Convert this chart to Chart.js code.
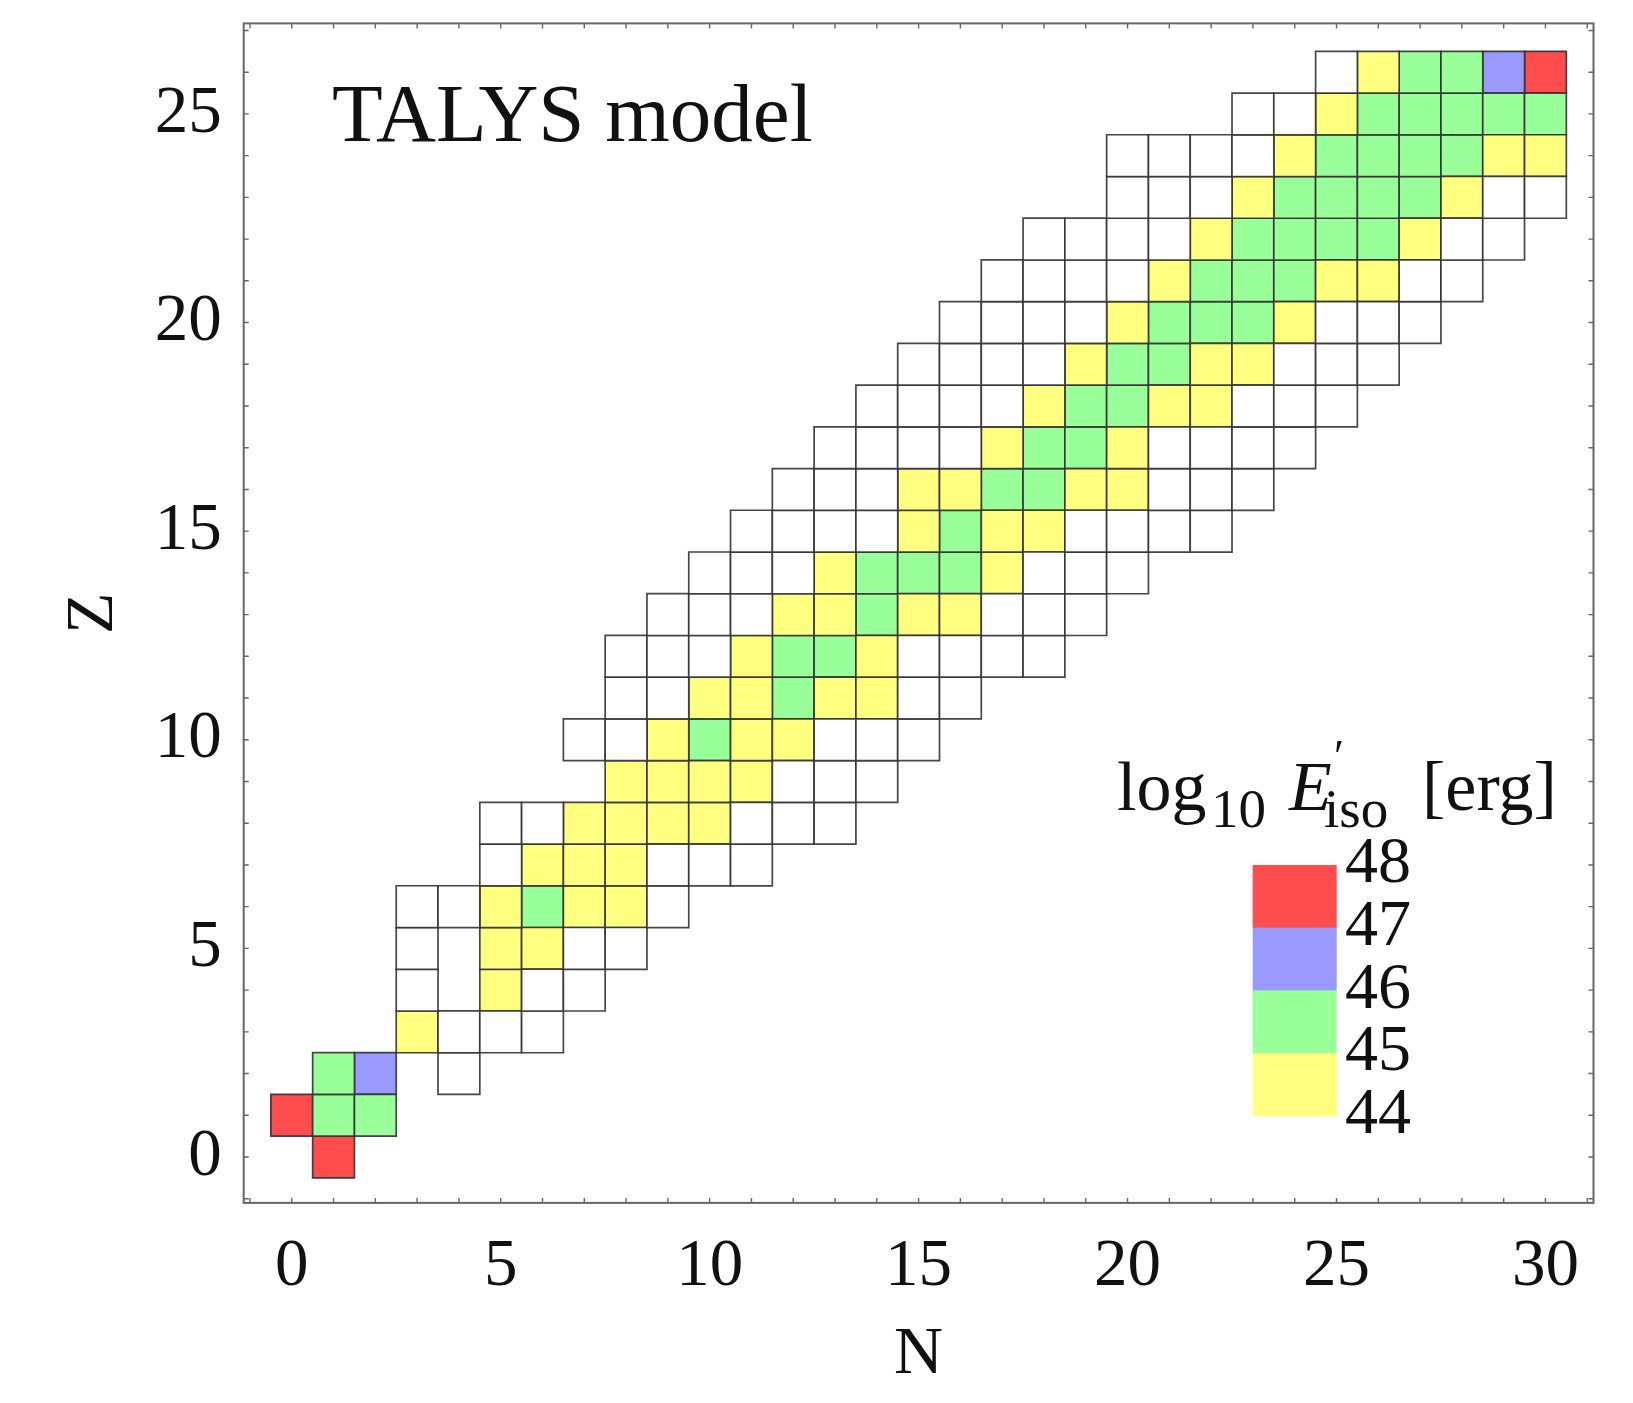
<!DOCTYPE html>
<html>
<head>
<meta charset="utf-8">
<script src="https://cdn.jsdelivr.net/npm/chart.js@4.4.0/dist/chart.umd.min.js"></script>
<style>
  html, body { margin: 0; padding: 0; background: #ffffff; }
  #wrap { position: relative; width: 1633px; height: 1403px; }
  canvas { display: block; }
</style>
</head>
<body>
<div id="wrap"><canvas id="chart" width="1633" height="1403"></canvas></div>
<script>
// ---------------- DATA ----------------
// Proton number Z of each row of the nuclide chart
const zRows = [0,1,2,3,4,5,6,7,8,9,10,11,12,13,14,15,16,17,18,19,20,21,22,23,24,25,26];
// Neutron number N of the first cell in each row
const nStart = [1,0,1,3,3,3,3,5,5,8,7,8,8,9,10,11,12,13,14,15,16,17,18,20,20,23,25];
// Bin of log10 E'iso for each cell along the row (starting at nStart):
// W = below 44 (white), Y = 44-45, G = 45-46, B = 46-47, R = 47-48, '.' = no nucleus
const rowBins = [
  'R',
  'RGG',
  'GB.W',
  'YWWW',
  'W.YWW',
  'W.YYWW',
  'WWYGYYW',
  'WYYYWWW',
  'WWYYYYWWW',
  'YYYYWWW',
  'WWYGYYWWW',
  'WWYYGYYWW',
  'WWWYGGYWWWW',
  'WWWYYGYYWWW',
  'WWWYGGGYWWW',
  'WWWWYGYYWWWW',
  'WWWYYGGYYWWW',
  'WWWWYGGYWWWW',
  'WWWWYGGYYWWW',
  'WWWWYGGYYWWW',
  'WWWWYGGGYWWW',
  'WWWWYGGGYYWW',
  'WWWWYGGGGYWW',
  'WWWYGGGGYWW',
  'WWWWYGGGGYY',
  'WWYGGGGG',
  'WYGGBR'
];
// Tick labels
const xTickValues = [0, 5, 10, 15, 20, 25, 30];
const yTickValues = [0, 5, 10, 15, 20, 25];
// Colour-bar legend
const legendCodes = ['R', 'B', 'G', 'Y'];
const legendTickLabels = ['48', '47', '46', '45', '44'];
const binCodes = ['W', 'Y', 'G', 'B', 'R'];
const binLabels = ['< 44', '44–45', '45–46', '46–47', '47–48'];

// ---------------- STYLE ----------------
const binColors = { W: '#ffffff', Y: '#ffff80', G: '#99ff99', B: '#9999ff', R: '#ff4d4d' };
const SERIF = '"Liberation Serif", "DejaVu Serif", serif';

// Build one scatter dataset per bin from the rows
const cellRadius = (ctx) => {
  const xs = ctx.chart.scales.x;
  return Math.abs(xs.getPixelForValue(1) - xs.getPixelForValue(0)) / Math.SQRT2;
};
const datasets = binCodes.map((code, k) => {
  const pts = [];
  rowBins.forEach((row, i) => {
    for (let j = 0; j < row.length; j++) {
      if (row[j] === code) pts.push({ x: nStart[i] + j, y: zRows[i] });
    }
  });
  return {
    label: binLabels[k],
    data: pts,
    pointStyle: 'rect',
    backgroundColor: binColors[code],
    borderColor: 'rgba(50,50,50,0.9)',
    borderWidth: 1.7,
    pointRadius: cellRadius,
    pointHoverRadius: cellRadius
  };
});

const framePlugin = {
  id: 'frameAndText',
  afterDatasetsDraw(chart) {
    const { ctx, chartArea: a, scales: { x, y } } = chart;
    ctx.save();
    ctx.strokeStyle = '#666666';
    ctx.lineWidth = 2;
    ctx.strokeRect(a.left, a.top, a.right - a.left, a.bottom - a.top);
    ctx.lineWidth = 1.4;
    ctx.beginPath();
    const tl = 5;
    for (let v = Math.ceil(x.min); v <= Math.floor(x.max); v++) {
      const px = x.getPixelForValue(v);
      ctx.moveTo(px, a.bottom); ctx.lineTo(px, a.bottom - tl);
      ctx.moveTo(px, a.top); ctx.lineTo(px, a.top + tl);
    }
    for (let v = Math.ceil(y.min); v <= Math.floor(y.max); v++) {
      const py = y.getPixelForValue(v);
      ctx.moveTo(a.left, py); ctx.lineTo(a.left + tl, py);
      ctx.moveTo(a.right, py); ctx.lineTo(a.right - tl, py);
    }
    ctx.stroke();
    ctx.restore();
  },
  afterDraw(chart) {
    const { ctx } = chart;
    ctx.save();
    ctx.fillStyle = '#111111';
    ctx.textBaseline = 'alphabetic';
    ctx.textAlign = 'left';
    // Panel title
    ctx.font = '83px ' + SERIF;
    ctx.fillText('TALYS model', 332, 141);

    // Legend title: log10 E'iso [erg]
    ctx.font = '70px ' + SERIF;
    ctx.fillText('log', 1117, 810);
    ctx.font = '55px ' + SERIF;
    ctx.fillText('10', 1211, 827);
    ctx.font = 'italic 70px ' + SERIF;
    ctx.fillText('E', 1289, 810);
    ctx.font = '46px ' + SERIF;
    ctx.fillText('\u2032', 1334, 772);
    ctx.font = '55px ' + SERIF;
    ctx.fillText('iso', 1324, 827);
    ctx.font = '70px ' + SERIF;
    ctx.fillText('[erg]', 1422, 810);

    // Colour bar
    const barX = 1252.7, barW = 84, barTop = 865, segH = 62.7;
    legendCodes.forEach((c, i) => {
      ctx.fillStyle = binColors[c];
      ctx.fillRect(barX, barTop + i * segH, barW, segH + 0.5);
    });
    ctx.fillStyle = '#111111';
    ctx.font = '66px ' + SERIF;
    ctx.textBaseline = 'middle';
    legendTickLabels.forEach((t, i) => {
      ctx.fillText(t, 1345, barTop + i * segH);
    });
    ctx.restore();
  }
};

new Chart(document.getElementById('chart'), {
  type: 'scatter',
  data: { datasets },
  plugins: [framePlugin],
  options: {
    responsive: false,
    devicePixelRatio: 1,
    animation: false,
    events: [],
    layout: { padding: { top: 0, right: 39.5, left: 0, bottom: 0 } },
    plugins: { legend: { display: false }, tooltip: { enabled: false } },
    scales: {
      x: {
        type: 'linear',
        min: -1.15,
        max: 31.15,
        grid: { display: false },
        border: { display: false },
        afterBuildTicks: (s) => { s.ticks = xTickValues.map(v => ({ value: v })); },
        afterFit: (s) => { s.height = 200.1; },
        ticks: {
          font: { family: SERIF, size: 67, lineHeight: 1.2 },
          color: '#111111',
          padding: 16,
          maxRotation: 0,
          autoSkip: false
        },
        title: {
          display: true,
          text: 'N',
          font: { family: SERIF, size: 68, lineHeight: 1.2 },
          color: '#111111',
          padding: { top: 0, bottom: 7 }
        }
      },
      y: {
        type: 'linear',
        min: -1.1,
        max: 27.17,
        grid: { display: false },
        border: { display: false },
        afterBuildTicks: (s) => { s.ticks = yTickValues.map(v => ({ value: v })); },
        afterFit: (s) => { s.width = 243.7; },
        ticks: {
          font: { family: SERIF, size: 67, lineHeight: 0.28 },
          color: '#111111',
          padding: 14,
          autoSkip: false
        },
        title: {
          display: true,
          text: 'Z',
          font: { family: SERIF, size: 68, lineHeight: 1.2 },
          color: '#111111',
          padding: { top: 53, bottom: 0 }
        }
      }
    }
  }
});
</script>
</body>
</html>
